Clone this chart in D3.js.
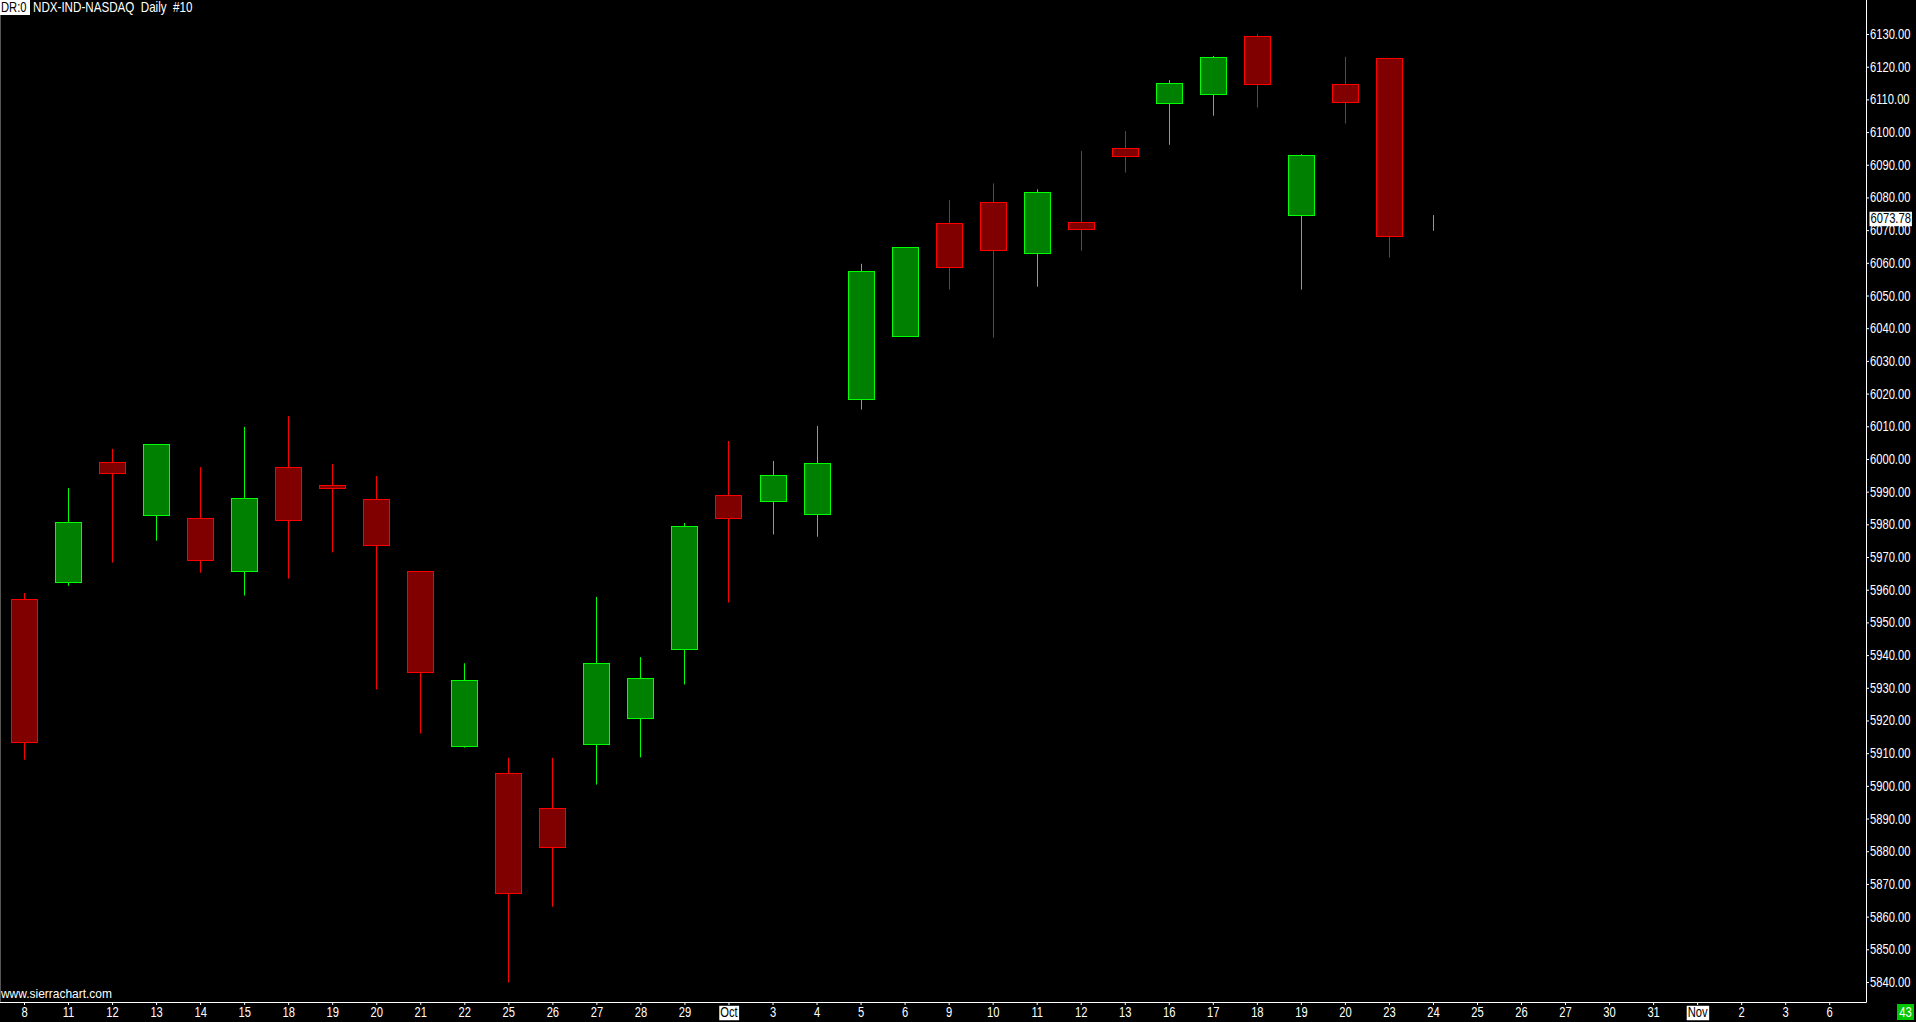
<!DOCTYPE html>
<html>
<head>
<meta charset="utf-8">
<script src="https://cdn.jsdelivr.net/npm/d3@7"></script>
<style>
  html, body { margin: 0; padding: 0; background: #000; overflow: hidden; }
  svg { display: block; }
</style>
</head>
<body>
<div id="svganchor"></div>
<script>
// Measurement
var w = 1916, h = 1022;
var plotRight = 1866, plotBottom = 1002;

// Data (Sep 8 - Oct 24, 2017; daily bars)
var dateLabels = ["8","11","12","13","14","15","18","19","20","21","22","25","26","27","28","29",
                  "Oct","3","4","5","6","9","10","11","12","13","16","17","18","19","20","23",
                  "24","25","26","27","30","31","Nov","2","3","6"];
var opens  = [5957.1,5962.3,5999.0,5982.8,5981.8,5965.6,5997.4,5991.9,5987.7,5965.6,5912.1,5903.9,5893.2,5913.0,5920.7,5941.8,
              5988.9,5987.0,5983.4,6018.3,6037.5,6072.1,6078.5,6062.9,6072.4,6095.0,6108.8,6111.6,6129.3,6074.5,6114.6,6122.6,6073.78];
var highs  = [5959.0,5991.1,6003.1,6004.5,5997.5,6009.8,6013.1,5998.5,5994.8,5965.6,5937.5,5908.6,5908.6,5957.8,5939.4,5980.4,
              6005.5,5999.4,6010.1,6059.7,6064.8,6079.2,6084.3,6082.5,6094.2,6100.3,6115.9,6123.3,6129.9,6093.2,6123.0,6122.6,6074.6];
var lows   = [5908.0,5961.2,5968.3,5975.0,5965.2,5958.2,5963.4,5971.4,5929.5,5916.0,5911.7,5839.9,5863.0,5900.4,5908.7,5931.0,
              5956.1,5976.9,5976.2,6015.1,6037.5,6051.8,6037.1,6052.7,6063.7,6087.6,6096.1,6105.0,6107.5,6051.8,6102.6,6061.6,6069.8];
var closes = [5913.3,5980.6,5995.6,6004.5,5969.0,5988.0,5981.2,5991.1,5973.5,5934.7,5932.3,5867.2,5881.3,5937.7,5932.9,5979.4,
              5981.9,5995.0,5998.9,6057.4,6064.8,6058.6,6063.8,6081.6,6070.3,6092.6,6114.9,6122.9,6114.6,6092.9,6109.1,6068.1,6073.78];
var lastPrice = 6073.78;
var yTicks = d3.range(5840, 6131, 10);

var bars = opens.map(function(o, i) {
	return { i: i, open: o, high: highs[i], low: lows[i], close: closes[i] };
});

// Colours
var upLine = "#00ff00", upFill = "#008000";
var dnLine = "#ff0000", dnFill = "#800000";

// narrow tall lettering like the original screen font
var fontFam = "'Liberation Sans', Arial, sans-serif";
var sx = 0.8;
function narrow(sel, size, k) {
	k = k || sx;
	sel.attr("font-family", fontFam)
		.attr("font-size", size)
		.attr("transform", "scale(" + k + ",1)");
}

// Scaling
var xScale = d3.scaleLinear()
				.domain([0, dateLabels.length - 1])
				.range([24, 24 + 44.03 * (dateLabels.length - 1)]);
var yScale = d3.scaleLinear()
				.domain([5840, 6130])
				.range([982, 34]);

// SVG Container
var svg = d3.select("#svganchor")
				.append("svg")
				.attr("width", w)
				.attr("height", h)
				.style("background", "#000");

// Candles
var candle = svg.append("g").selectAll("g")
	.data(bars)
	.enter()
	.append("g");

candle.append("line")
	.attr("x1", function(d) { return Math.round(xScale(d.i)) + 0.5; })
	.attr("x2", function(d) { return Math.round(xScale(d.i)) + 0.5; })
	.attr("y1", function(d) { return yScale(d.high); })
	.attr("y2", function(d) { return yScale(d.low); })
	.attr("stroke", function(d) { return d.close >= d.open ? upLine : dnLine; })
	.attr("stroke-width", 1);

// last bar is still forming: drawn as a wick only
candle.filter(function(d) { return d.i < bars.length - 1; })
	.append("rect")
	.attr("x", function(d) { return Math.round(xScale(d.i)) - 13 + 0.5; })
	.attr("width", 26)
	.attr("y", function(d) { return Math.round(yScale(Math.max(d.open, d.close))) + 0.5; })
	.attr("height", function(d) {
		return Math.max(2, Math.round(yScale(Math.min(d.open, d.close)) - yScale(Math.max(d.open, d.close))));
	})
	.attr("fill", function(d) { return d.close >= d.open ? upFill : dnFill; })
	.attr("stroke", function(d) { return d.close >= d.open ? upLine : dnLine; })
	.attr("stroke-width", 1);

// Axis
var yAxis = d3.axisRight(yScale)
				.tickValues(yTicks)
				.tickSize(3)
				.tickFormat(d3.format(".2f"));

var gy = svg.append("g")
	.attr("transform", "translate(" + plotRight + ",0)")
	.call(yAxis);
gy.select(".domain").remove();
gy.selectAll("line").attr("stroke", "#fff");
gy.selectAll("text")
	.attr("x", 4 / sx)
	.attr("fill", "#fff")
	.call(narrow, 14);

var xAxis = d3.axisBottom(xScale)
				.tickValues(d3.range(dateLabels.length))
				.tickSize(3)
				.tickFormat(function(d) { return dateLabels[d]; });

var gx = svg.append("g")
	.attr("transform", "translate(0," + plotBottom + ")")
	.call(xAxis);
gx.select(".domain").remove();
gx.selectAll("line").attr("stroke", "#fff");
gx.selectAll("text")
	.attr("y", 5)
	.attr("fill", "#fff")
	.call(narrow, 14);

// month boxes
gx.selectAll(".tick").filter(function(d) { return dateLabels[d] == "Oct" || dateLabels[d] == "Nov"; })
	.each(function() {
		var t = d3.select(this).select("text").attr("fill", "#000");
		var bb = t.node().getBBox();
		d3.select(this).insert("rect", "text")
			.attr("x", bb.x * sx - 1)
			.attr("y", bb.y + 1)
			.attr("width", bb.width * sx + 2)
			.attr("height", bb.height - 1)
			.attr("fill", "#fff");
	});

// borders
svg.append("line")
	.attr("x1", plotRight + 0.5).attr("x2", plotRight + 0.5)
	.attr("y1", 0).attr("y2", plotBottom + 0.5)
	.attr("stroke", "#fff");
svg.append("line")
	.attr("x1", 0).attr("x2", plotRight + 0.5)
	.attr("y1", plotBottom + 0.5).attr("y2", plotBottom + 0.5)
	.attr("stroke", "#fff");
svg.append("line")
	.attr("x1", 0.5).attr("x2", 0.5)
	.attr("y1", 0).attr("y2", plotBottom)
	.attr("stroke", "#555");

// last price marker
var lp = svg.append("g").attr("transform", "translate(" + (plotRight + 3) + "," + Math.round(yScale(lastPrice)) + ")");
var lpText = lp.append("text")
	.attr("x", 1.5 / sx)
	.attr("dy", "0.35em")
	.attr("fill", "#000")
	.call(narrow, 14)
	.text(d3.format(".2f")(lastPrice));
var lpb = lpText.node().getBBox();
lp.insert("rect", "text")
	.attr("x", lpb.x * sx - 1).attr("y", lpb.y + 1)
	.attr("width", lpb.width * sx + 2).attr("height", lpb.height - 1)
	.attr("fill", "#fff");

// title
var title = svg.append("g");
title.append("rect")
	.attr("x", 0).attr("y", 0)
	.attr("width", 30).attr("height", 15)
	.attr("fill", "#fff");
title.append("text")
	.attr("x", 1 / sx).attr("y", 12)
	.attr("fill", "#000")
	.call(narrow, 14)
	.text("DR:0");
title.append("text")
	.attr("x", 33 / 0.83).attr("y", 12)
	.attr("fill", "#fff")
	.call(narrow, 14, 0.83)
	.style("white-space", "pre")
	.text("NDX-IND-NASDAQ  Daily  #10");

svg.append("text")
	.attr("x", 1 / 0.92).attr("y", 998)
	.attr("fill", "#fff")
	.call(narrow, 13, 0.92)
	.text("www.sierrachart.com");

// bar counter
var bc = svg.append("g");
bc.append("rect")
	.attr("x", 1897).attr("y", 1004)
	.attr("width", 17).attr("height", 16)
	.attr("fill", "#00c800");
bc.append("text")
	.attr("x", 1905.5 / sx).attr("y", 1017)
	.attr("text-anchor", "middle")
	.attr("fill", "#fff")
	.call(narrow, 14)
	.text("43");
</script>
</body>
</html>
